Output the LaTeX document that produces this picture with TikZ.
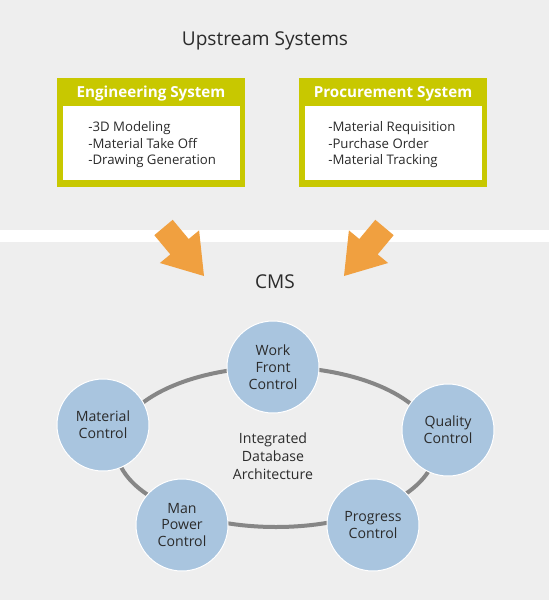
\documentclass[tikz,border=0pt]{standalone}
\usepackage{fontspec}
\setmainfont{Open Sans}
\definecolor{bg}{HTML}{EEEEEE}
\definecolor{boxgreen}{HTML}{C8C800}
\definecolor{circfill}{HTML}{A9C5DF}
\definecolor{arroworange}{HTML}{F0A040}
\definecolor{txt}{HTML}{2B2B2B}
\definecolor{ring}{HTML}{868686}
\begin{document}
\begin{tikzpicture}[x=0.75pt,y=-0.75pt,
  heading/.style={font=\fontsize{14.3}{17}\selectfont, text=txt, inner sep=0pt},
  boxtitle/.style={font=\fontsize{11.4}{13}\selectfont\bfseries, text=white, inner sep=0pt},
  items/.style={font=\fontsize{9.9}{12.4}\selectfont, text=txt, align=left, anchor=west, inner sep=0pt},
  greenbox/.style={fill=boxgreen, minimum width=141pt, minimum height=81.75pt, inner sep=0pt},
  whitebox/.style={fill=white, minimum width=132.75pt, minimum height=55.5pt, inner sep=0pt},
  ctrl/.style={circle, fill=circfill, draw=white, line width=0.75pt, minimum size=69pt, inner sep=0pt,
    align=center, text=txt, font=\fontsize{10.6}{12.6}\selectfont},
  arrowshape/.style={fill=arroworange}]
\useasboundingbox (0,0) rectangle (549,600);
\fill[bg] (0,0) rectangle (549,600);
\fill[white] (0,230) rectangle (549,242);

\node[heading] (up) at (265,41) {Upstream Systems};

\node[greenbox] (eng) at (151,132.5) {};
\node[whitebox] (engw) at (151.5,143) {};
\node[boxtitle] (engt) at (151,93.5) {Engineering System};
\node[items] (engi) at (88,145) {-3D Modeling\\-Material Take Off\\-Drawing Generation};

\node[greenbox] (proc) at (393,132.5) {};
\node[whitebox] (procw) at (393.5,143) {};
\node[boxtitle] (proct) at (393,93.5) {Procurement System};
\node[items] (proci) at (328,145) {-Material Requisition\\-Purchase Order\\-Material Tracking};

\fill[arrowshape] (172.7,219.8) -- (188.7,239.0) -- (199.1,230.4) -- (204,276) -- (159.9,263.0) -- (170.3,254.4) -- (154.3,235.2) -- cycle;
\fill[arrowshape] (375.3,219.8) -- (359.3,239.0) -- (348.9,230.4) -- (344,276) -- (388.1,263.0) -- (377.7,254.4) -- (393.7,235.2) -- cycle;

\node[heading] (cms) at (275,282) {CMS};

\coordinate (ringc) at (276,447);
\draw[ring, line width=3pt] (ringc) ellipse [x radius=160, y radius=80];

\node[ctrl] (wf) at (273,367) {Work\\Front\\Control};
\node[ctrl] (mc) at (103,425) {Material\\Control};
\node[ctrl] (qc) at (448,430) {Quality\\Control};
\node[ctrl] (pc) at (373,525) {Progress\\Control};
\node[ctrl] (mp) at (182,525) {Man\\Power\\Control};

\node[font=\fontsize{10.6}{13.5}\selectfont, text=txt, align=center, inner sep=0pt] (ida) at (273,456) {Integrated\\Database\\Architecture};
\end{tikzpicture}
\end{document}
